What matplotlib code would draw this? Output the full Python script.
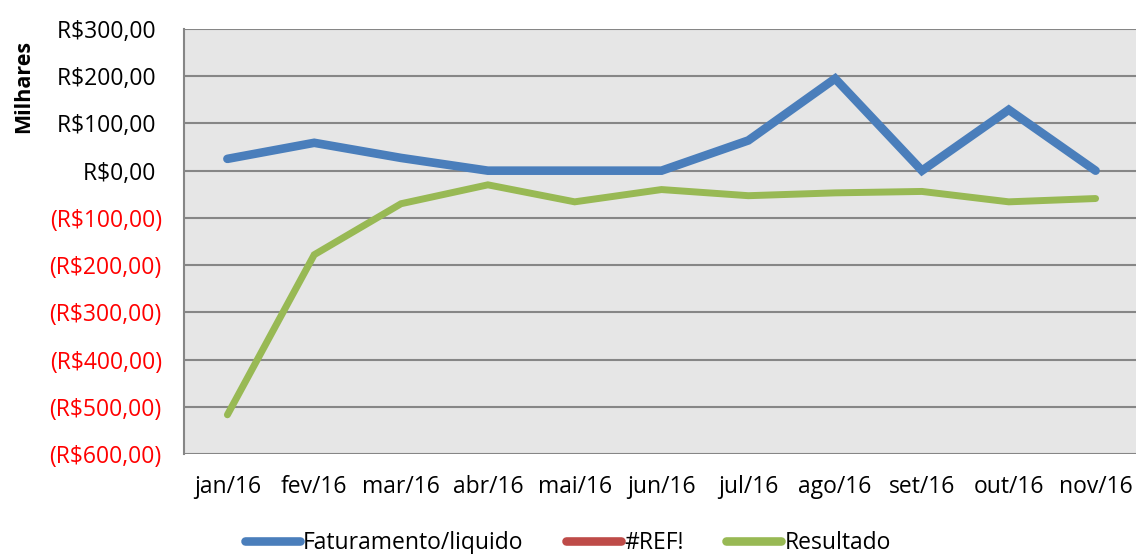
import matplotlib as mpl
import matplotlib.pyplot as plt
from matplotlib.lines import Line2D

mpl.rcParams.update({"font.family": ["Open Sans", "DejaVu Sans"]})

MONTHS = ["jan/16", "fev/16", "mar/16", "abr/16", "mai/16", "jun/16",
          "jul/16", "ago/16", "set/16", "out/16", "nov/16"]
# valores em milhares de R$
FATURAMENTO = [25, 59, 27, 0, 0, 0, 64, 195, 0, 129, 0]
RESULTADO = [-517, -178, -70, -30, -66, -40, -53, -47, -44, -66, -59]
YTICKS = [300, 200, 100, 0, -100, -200, -300, -400, -500, -600]

BLUE = "#4A7EBB"
RED = "#BE4B48"
GREEN = "#98B954"


def fmt(v):
    if v < 0:
        return f"(R${-v:.2f})".replace(".", ",")
    # espaco no lugar do parentese, como no Excel
    return f"R${v:.2f}".replace(".", ",") + "\u2009\u200a"


fig = plt.figure(figsize=(11.36, 5.54), dpi=100)
ax = fig.add_axes([184 / 1136, 100 / 554, 955 / 1136, 425 / 554])
ax.set_facecolor("#E6E6E6")

x = list(range(len(MONTHS)))
ax.plot(x, FATURAMENTO, color=BLUE, lw=6.2, solid_capstyle="round", solid_joinstyle="miter", zorder=3)
ax.plot(x, RESULTADO, color=GREEN, lw=5.0, solid_capstyle="round", solid_joinstyle="miter", zorder=3)

ax.set_xlim(-0.5, len(MONTHS) - 0.5)
ax.set_ylim(-600, 300)
ax.set_yticks(YTICKS)
ax.set_yticklabels([fmt(v) for v in YTICKS], fontsize=16.5)
for lab, v in zip(ax.get_yticklabels(), YTICKS):
    lab.set_color("#FF0000" if v < 0 else "black")
ax.set_xticks(x)
ax.set_xticklabels(MONTHS, fontsize=16.5)
ax.tick_params(axis="both", length=0)
ax.tick_params(axis="y", pad=16)
ax.tick_params(axis="x", pad=15)

ax.grid(axis="y", color="#868686", lw=1.5, zorder=1)
for s in ("top", "right", "bottom"):
    ax.spines[s].set_visible(False)
ax.spines["left"].set_color("#868686")
ax.spines["left"].set_linewidth(1.5)

fig.text(24 / 1136, 1 - 86 / 554, "Milhares", rotation=90, ha="center", va="center",
         fontsize=15.5, fontweight="bold")

handles = [Line2D([], [], color=BLUE, lw=6.2, solid_capstyle="round"),
           Line2D([], [], color=RED, lw=6.2, solid_capstyle="round"),
           Line2D([], [], color=GREEN, lw=6.2, solid_capstyle="round")]
fig.legend(handles, ["Faturamento/liquido", "#REF!", "Resultado"], loc="center",
           bbox_to_anchor=(568 / 1136, 1 - 543 / 554), ncol=3, frameon=False,
           fontsize=16.5, handlelength=2.4, handletextpad=0.15, columnspacing=1.85)

fig.savefig("out.png", dpi=100)
